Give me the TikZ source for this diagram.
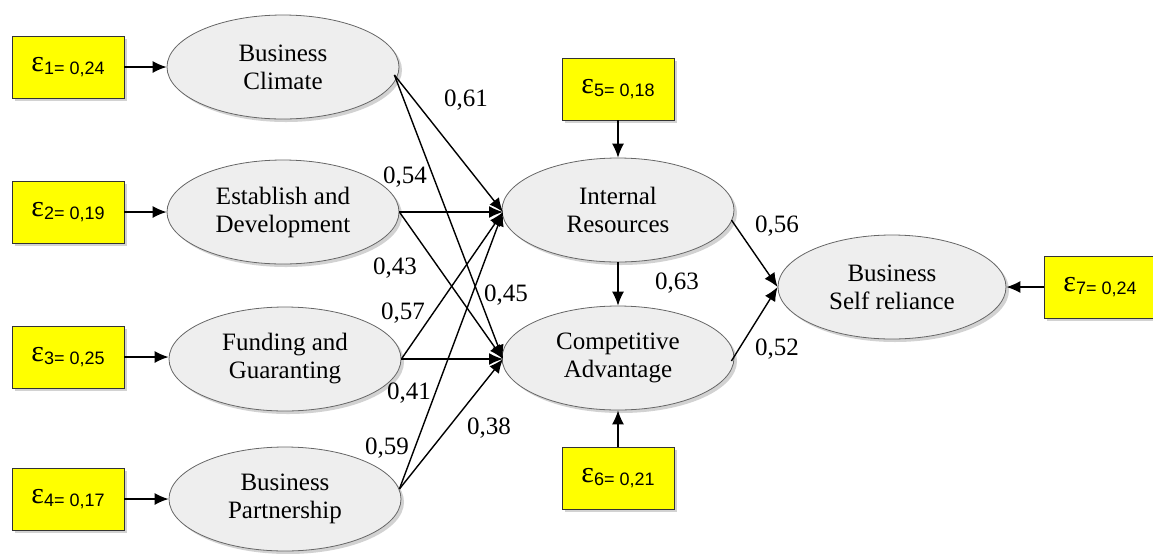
\documentclass[tikz,border=0pt]{standalone}
\usepackage{fontspec}
\setmainfont{Liberation Serif}
\newfontfamily\subfont{Liberation Sans}
\usetikzlibrary{shapes,arrows.meta,shadows}
\definecolor{fillcolour}{HTML}{EEEEEE}
\definecolor{boxcolour}{HTML}{FFFF00}

\tikzset{
  latent/.style={ellipse,draw=gray!80!black,fill=fillcolour,minimum width=116pt,minimum height=52pt,inner sep=0pt,align=center,
    font=\fontsize{12.5}{14}\selectfont,drop shadow={shadow xshift=1.5pt,shadow yshift=-1.5pt,fill=gray!70}},
  errbox/.style={rectangle,draw=black!80,fill=boxcolour,minimum width=56pt,minimum height=31pt,inner sep=0pt,
    drop shadow={shadow xshift=1.5pt,shadow yshift=-1.5pt,fill=gray!70}},
  path/.style={black,line width=0.7pt,-{Latex[length=7pt,width=6pt]}},
  coef/.style={font=\fontsize{12.5}{14}\selectfont}
}
\newcommand{\err}[2]{{\fontsize{15}{15}\selectfont ε}{\subfont\fontsize{9}{9}\selectfont\raisebox{-1.5pt}{#1= #2}}}

\begin{document}
\begin{tikzpicture}[x=0.5pt,y=-0.5pt]
\useasboundingbox (0,0) rectangle (1153,553);

% Exogenous variables
\node[latent] (climate) at (283,67) {Business\\Climate};
\node[latent] (establish) at (283,212) {Establish and\\Development};
\node[latent] (funding) at (285,359) {Funding and\\Guaranting};
\node[latent] (partner) at (285,499) {Business\\Partnership};

% Endogenous variables
\node[latent] (internal) at (618,210) {Internal\\Resources};
\node[latent] (compet) at (618,358) {Competitive\\Advantage};
\node[latent,minimum width=114pt] (reliance) at (892,287) {Business\\Self reliance};

% Error terms
\node[errbox] (e1) at (68,67) {\err{1}{0,24}};
\node[errbox] (e2) at (68,212) {\err{2}{0,19}};
\node[errbox] (e3) at (68,357) {\err{3}{0,25}};
\node[errbox] (e4) at (68,499) {\err{4}{0,17}};
\node[errbox] (e5) at (618,89) {\err{5}{0,18}};
\node[errbox] (e6) at (618,478) {\err{6}{0,21}};
\node[errbox] (e7) at (1100,287) {\err{7}{0,24}};

\draw[path] (e1) -- (climate);
\draw[path] (e2) -- (establish);
\draw[path] (e3) -- (e3 -| funding.west);
\draw[path] (e4) -- (partner);
\draw[path] (e5) -- (internal);
\draw[path] (e6) -- (compet);
\draw[path] (e7) -- (reliance);

% Paths to Internal Resources and Competitive Advantage
\coordinate (ir) at (503,212);
\coordinate (ca) at (503,359);
\draw[path] (climate.east) ++(-5,8) coordinate (c1) -- (ir);
\draw[path] (c1) -- (ca);
\draw[path] (establish.east) -- (ir);
\draw[path] (establish.east) -- (ca);
\draw[path] (funding.east) -- (ir);
\draw[path] (funding.east) -- (ca);
\draw[path] (partner.east) ++(-2,-10) coordinate (p1) -- (ir);
\draw[path] (p1) -- (ca);

% Paths to Business Self reliance
\draw[path] (internal.south) -- (compet.north);
\draw[path] (internal.east) ++(-3,10) -- (reliance.west);
\draw[path] (compet.east) ++(-3,3) -- (reliance.west);

% Coefficients
\node[coef] (k1) at (466,100) {0,61};
\node[coef] (k2) at (405,177) {0,54};
\node[coef] (k3) at (395,268) {0,43};
\node[coef] (k4) at (506,295) {0,45};
\node[coef] (k5) at (403,313) {0,57};
\node[coef] (k6) at (409,393) {0,41};
\node[coef] (k7) at (387,448) {0,59};
\node[coef] (k8) at (489,428) {0,38};
\node[coef] (k9) at (777,226) {0,56};
\node[coef] (k10) at (677,283) {0,63};
\node[coef] (k11) at (777,349) {0,52};

\end{tikzpicture}
\end{document}
